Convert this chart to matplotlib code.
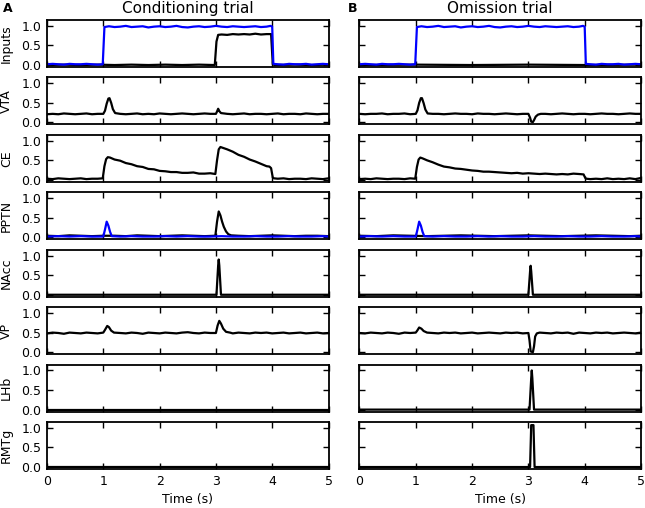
import numpy as np
import matplotlib
matplotlib.use("Agg")
import matplotlib.pyplot as plt

# traces, (time in s, activity)
cs_input = [(0.0,0.02),(0.1,0.03),(0.2,0.02),(0.3,0.01),(0.4,0.03),(0.5,0.02),(0.6,0.02),(0.7,0.03),(0.8,0.02),(0.9,0.01),
            (0.99,0.02),(1.02,0.97),(1.1,0.99),(1.2,0.97),(1.3,0.98),(1.4,1.0),(1.5,0.97),(1.6,0.98),(1.7,0.99),(1.8,0.96),
            (1.9,0.98),(2.0,0.99),(2.1,0.97),(2.2,0.98),(2.3,1.0),(2.4,0.97),(2.5,0.96),(2.6,0.98),(2.7,0.99),(2.8,0.97),
            (2.9,0.98),(3.0,1.0),(3.1,0.98),(3.2,0.97),(3.3,0.99),(3.4,0.98),(3.5,0.97),(3.6,0.98),(3.7,0.99),(3.8,0.97),
            (3.9,0.98),(3.97,1.0),(4.0,0.98),(4.02,0.03),(4.1,0.02),(4.2,0.01),(4.3,0.03),(4.4,0.02),(4.5,0.02),(4.6,0.03),
            (4.7,0.01),(4.8,0.02),(4.9,0.03),(5.0,0.02)]
us_cond = [(0.0,0.0),(0.3,0.01),(0.6,0.0),(0.9,0.01),(1.2,0.0),(1.5,0.01),(1.8,0.0),(2.1,0.01),(2.4,0.0),(2.7,0.01),
           (2.98,0.0),(3.01,0.6),(3.04,0.77),(3.1,0.78),(3.2,0.77),(3.3,0.79),(3.4,0.78),(3.5,0.79),(3.6,0.78),(3.7,0.8),
           (3.8,0.78),(3.9,0.79),(3.98,0.79),(4.01,0.02),(4.04,0.0),(4.4,0.01),(4.7,0.0),(5.0,0.01)]
us_omit = [(0.0,0.0),(1.0,0.01),(2.0,0.0),(3.0,0.01),(4.0,0.0),(5.0,0.01)]

vta_cond = [(0.0,0.21),(0.1,0.22),(0.2,0.21),(0.3,0.23),(0.4,0.22),(0.5,0.21),(0.6,0.22),(0.7,0.23),(0.8,0.21),(0.9,0.22),
            (1.0,0.22),(1.03,0.3),(1.06,0.48),(1.09,0.61),(1.11,0.62),(1.14,0.5),(1.17,0.34),(1.21,0.24),(1.3,0.22),(1.4,0.21),
            (1.5,0.22),(1.6,0.23),(1.7,0.21),(1.8,0.22),(1.9,0.21),(2.0,0.23),(2.1,0.22),(2.2,0.21),(2.3,0.22),(2.4,0.23),
            (2.5,0.22),(2.6,0.21),(2.7,0.22),(2.8,0.23),(2.9,0.22),(3.0,0.22),(3.02,0.28),(3.04,0.35),(3.06,0.29),(3.09,0.24),
            (3.2,0.22),(3.3,0.21),(3.4,0.22),(3.5,0.23),(3.6,0.21),(3.7,0.22),(3.8,0.22),(3.9,0.21),(4.0,0.22),(4.1,0.23),
            (4.2,0.21),(4.3,0.22),(4.4,0.22),(4.5,0.21),(4.6,0.23),(4.7,0.22),(4.8,0.21),(4.9,0.22),(5.0,0.22)]
vta_omit = [(0.0,0.22),(0.1,0.21),(0.2,0.22),(0.3,0.22),(0.4,0.23),(0.5,0.21),(0.6,0.22),(0.7,0.22),(0.8,0.23),(0.9,0.21),
            (1.0,0.22),(1.03,0.31),(1.06,0.5),(1.09,0.62),(1.11,0.62),(1.14,0.49),(1.17,0.33),(1.21,0.23),(1.3,0.22),(1.4,0.22),
            (1.5,0.21),(1.6,0.22),(1.7,0.23),(1.8,0.22),(1.9,0.22),(2.0,0.21),(2.1,0.23),(2.2,0.22),(2.3,0.22),(2.4,0.21),
            (2.5,0.22),(2.6,0.23),(2.7,0.22),(2.8,0.21),(2.9,0.22),(3.0,0.22),(3.03,0.12),(3.05,0.02),(3.08,0.01),(3.1,0.06),
            (3.13,0.15),(3.17,0.2),(3.22,0.22),(3.3,0.22),(3.4,0.21),(3.5,0.22),(3.6,0.23),(3.7,0.22),(3.8,0.21),(3.9,0.22),
            (4.0,0.22),(4.1,0.21),(4.2,0.22),(4.3,0.23),(4.4,0.22),(4.5,0.22),(4.6,0.21),(4.7,0.22),(4.8,0.23),(4.9,0.22),(5.0,0.22)]

ce_cond = [(0.0,0.03),(0.1,0.02),(0.2,0.04),(0.3,0.03),(0.4,0.02),(0.5,0.03),(0.6,0.04),(0.7,0.02),(0.8,0.03),(0.9,0.03),
           (0.99,0.04),(1.02,0.35),(1.05,0.53),(1.08,0.58),(1.12,0.57),(1.2,0.52),(1.3,0.49),(1.4,0.43),(1.5,0.4),(1.6,0.35),
           (1.7,0.33),(1.8,0.28),(1.9,0.27),(2.0,0.23),(2.1,0.22),(2.2,0.2),(2.3,0.2),(2.4,0.18),(2.5,0.18),(2.6,0.19),
           (2.7,0.16),(2.8,0.16),(2.9,0.17),(2.99,0.15),(3.02,0.5),(3.05,0.78),(3.08,0.84),(3.12,0.82),(3.2,0.78),(3.3,0.72),
           (3.4,0.64),(3.5,0.59),(3.6,0.52),(3.7,0.47),(3.8,0.41),(3.85,0.38),(3.9,0.35),(3.95,0.34),(3.98,0.3),(4.01,0.06),
           (4.03,0.04),(4.1,0.03),(4.2,0.04),(4.3,0.02),(4.4,0.03),(4.5,0.03),(4.6,0.02),(4.7,0.04),(4.8,0.03),(4.9,0.02),(5.0,0.04)]
ce_omit = [(0.0,0.02),(0.1,0.03),(0.2,0.02),(0.3,0.04),(0.4,0.03),(0.5,0.02),(0.6,0.03),(0.7,0.03),(0.8,0.02),(0.9,0.04),
           (0.99,0.03),(1.02,0.33),(1.05,0.52),(1.08,0.57),(1.12,0.55),(1.2,0.5),(1.3,0.45),(1.4,0.39),(1.5,0.34),(1.6,0.32),
           (1.7,0.29),(1.8,0.28),(1.9,0.26),(2.0,0.24),(2.1,0.23),(2.2,0.21),(2.3,0.21),(2.4,0.2),(2.5,0.19),(2.6,0.18),
           (2.7,0.17),(2.8,0.18),(2.9,0.16),(3.0,0.17),(3.1,0.16),(3.2,0.15),(3.3,0.16),(3.4,0.15),(3.5,0.14),(3.6,0.15),
           (3.7,0.14),(3.8,0.16),(3.9,0.15),(3.98,0.14),(4.01,0.05),(4.03,0.03),(4.1,0.02),(4.2,0.03),(4.3,0.02),(4.4,0.04),
           (4.5,0.02),(4.6,0.03),(4.7,0.02),(4.8,0.04),(4.9,0.02),(5.0,0.05)]

pptn_cs = [(0.0,0.02),(0.2,0.03),(0.4,0.02),(0.6,0.03),(0.8,0.02),(1.0,0.02),(1.03,0.2),(1.06,0.4),(1.09,0.3),(1.12,0.14),
           (1.15,0.03),(1.3,0.02),(1.5,0.03),(1.7,0.02),(1.9,0.02),(2.1,0.03),(2.3,0.02),(2.5,0.03),(2.7,0.02),(2.9,0.02),
           (3.1,0.03),(3.3,0.02),(3.5,0.02),(3.7,0.03),(3.9,0.02),(4.1,0.02),(4.3,0.03),(4.5,0.02),(4.7,0.02),(4.9,0.03),(5.0,0.02)]
pptn_cond = [(0.0,0.04),(0.2,0.03),(0.4,0.05),(0.6,0.04),(0.8,0.03),(1.0,0.04),(1.2,0.04),(1.4,0.03),(1.6,0.05),(1.8,0.04),
             (2.0,0.03),(2.2,0.04),(2.4,0.05),(2.6,0.04),(2.8,0.03),(2.99,0.04),(3.02,0.4),(3.05,0.66),(3.08,0.56),(3.11,0.4),
             (3.14,0.27),(3.18,0.15),(3.22,0.08),(3.27,0.05),(3.4,0.04),(3.6,0.03),(3.8,0.04),(4.0,0.05),(4.2,0.04),(4.4,0.03),
             (4.6,0.04),(4.8,0.04),(5.0,0.03)]
pptn_omit = [(0.0,0.04),(0.3,0.03),(0.6,0.05),(0.9,0.04),(1.2,0.03),(1.5,0.04),(1.8,0.05),(2.1,0.04),(2.4,0.03),(2.7,0.04),
             (3.0,0.05),(3.3,0.04),(3.6,0.03),(3.9,0.04),(4.2,0.05),(4.5,0.04),(4.8,0.03),(5.0,0.04)]

nacc_cond = [(0.0,0.0),(3.01,0.0),(3.04,0.75),(3.05,0.9),(3.06,0.75),(3.09,0.0),(5.0,0.0)]
nacc_omit = [(0.0,0.0),(3.0,0.0),(3.03,0.6),(3.04,0.74),(3.05,0.6),(3.08,0.0),(5.0,0.0)]

vp_cond = [(0.0,0.48),(0.1,0.5),(0.2,0.49),(0.3,0.47),(0.4,0.5),(0.5,0.49),(0.6,0.48),(0.7,0.5),(0.8,0.49),(0.9,0.48),
           (1.0,0.5),(1.03,0.57),(1.07,0.67),(1.1,0.64),(1.14,0.55),(1.19,0.5),(1.3,0.49),(1.4,0.48),(1.5,0.5),(1.6,0.49),
           (1.7,0.47),(1.8,0.5),(1.9,0.49),(2.0,0.48),(2.1,0.5),(2.2,0.49),(2.3,0.48),(2.4,0.5),(2.5,0.51),(2.6,0.49),
           (2.7,0.48),(2.8,0.5),(2.9,0.49),(3.0,0.49),(3.03,0.68),(3.06,0.8),(3.09,0.73),(3.13,0.6),(3.18,0.52),(3.25,0.5),
           (3.3,0.48),(3.4,0.5),(3.5,0.49),(3.6,0.48),(3.7,0.5),(3.8,0.49),(3.9,0.5),(4.0,0.48),(4.1,0.49),(4.2,0.5),
           (4.3,0.48),(4.4,0.49),(4.5,0.5),(4.6,0.48),(4.7,0.49),(4.8,0.5),(4.9,0.48),(5.0,0.49)]
vp_omit = [(0.0,0.49),(0.1,0.48),(0.2,0.5),(0.3,0.49),(0.4,0.48),(0.5,0.5),(0.6,0.49),(0.7,0.47),(0.8,0.5),(0.9,0.49),
           (1.0,0.5),(1.03,0.56),(1.06,0.63),(1.1,0.6),(1.14,0.54),(1.2,0.5),(1.3,0.49),(1.4,0.48),(1.5,0.5),(1.6,0.49),
           (1.7,0.5),(1.8,0.48),(1.9,0.49),(2.0,0.5),(2.1,0.48),(2.2,0.49),(2.3,0.5),(2.4,0.49),(2.5,0.48),(2.6,0.5),
           (2.7,0.49),(2.8,0.5),(2.9,0.48),(3.0,0.49),(3.02,0.3),(3.04,0.02),(3.08,0.0),(3.1,0.15),(3.12,0.4),(3.15,0.48),
           (3.2,0.5),(3.3,0.49),(3.4,0.48),(3.5,0.5),(3.6,0.49),(3.7,0.5),(3.8,0.47),(3.9,0.5),(4.0,0.49),(4.1,0.48),
           (4.2,0.5),(4.3,0.49),(4.4,0.5),(4.5,0.48),(4.6,0.49),(4.7,0.5),(4.8,0.49),(4.9,0.48),(5.0,0.5)]

flat_zero = [(0.0,0.0),(5.0,0.0)]
lhb_omit = [(0.0,0.0),(3.02,0.0),(3.05,0.8),(3.06,1.0),(3.07,0.8),(3.1,0.0),(5.0,0.0)]
rmtg_omit = [(0.0,0.0),(3.03,0.0),(3.05,1.07),(3.09,1.07),(3.11,0.0),(5.0,0.0)]

row_names = ["Inputs", "VTA", "CE", "PPTN", "NAcc", "VP", "LHb", "RMTg"]
col_titles = ["Conditioning trial", "Omission trial"]

# per row: list of (trace, colour) for each column, black first so blue sits on top
cond_traces = [[(us_cond, "k"), (cs_input, "b")], [(vta_cond, "k")], [(ce_cond, "k")],
               [(pptn_cond, "k"), (pptn_cs, "b")], [(nacc_cond, "k")], [(vp_cond, "k")],
               [(flat_zero, "k")], [(flat_zero, "k")]]
omit_traces = [[(us_omit, "k"), (cs_input, "b")], [(vta_omit, "k")], [(ce_omit, "k")],
               [(pptn_omit, "k"), (pptn_cs, "b")], [(nacc_omit, "k")], [(vp_omit, "k")],
               [(lhb_omit, "k")], [(rmtg_omit, "k")]]

plt.rcParams["font.family"] = "DejaVu Sans"
plt.rcParams["font.size"] = 9
plt.rcParams["xtick.direction"] = "in"
plt.rcParams["ytick.direction"] = "in"
plt.rcParams["xtick.top"] = True
plt.rcParams["ytick.right"] = True
plt.rcParams["axes.linewidth"] = 1.3

fig = plt.figure(figsize=(6.45, 5.08), dpi=100)
gs = fig.add_gridspec(8, 2, left=47/645, right=641/645, top=1-20/508, bottom=1-469/508,
                      hspace=0.222, wspace=0.11)

for col, traces in enumerate([cond_traces, omit_traces]):
    for row in range(8):
        ax = fig.add_subplot(gs[row, col])
        for trace, c in traces[row]:
            t = [p[0] for p in trace]
            v = [p[1] for p in trace]
            ax.plot(t, v, color=c, lw=1.6)
        ax.set_xlim(0, 5)
        ax.set_ylim(-0.05, 1.15)
        ax.set_yticks([0, 0.5, 1.0])
        ax.set_xticks(range(6))
        ax.tick_params(length=4, width=1, pad=4)
        if col == 0:
            ax.set_ylabel(row_names[row], labelpad=6)
        else:
            ax.set_yticklabels([])
        if row == 0:
            ax.set_title(col_titles[col], fontsize=11, pad=5)
        if row == 7:
            ax.set_xlabel("Time (s)")
        else:
            ax.set_xticklabels([])

fig.text(3/645, 1-2/508, "A", fontsize=9, fontweight="bold", va="top")
fig.text(348/645, 1-2/508, "B", fontsize=9, fontweight="bold", va="top")

fig.savefig("out.png", dpi=100)
